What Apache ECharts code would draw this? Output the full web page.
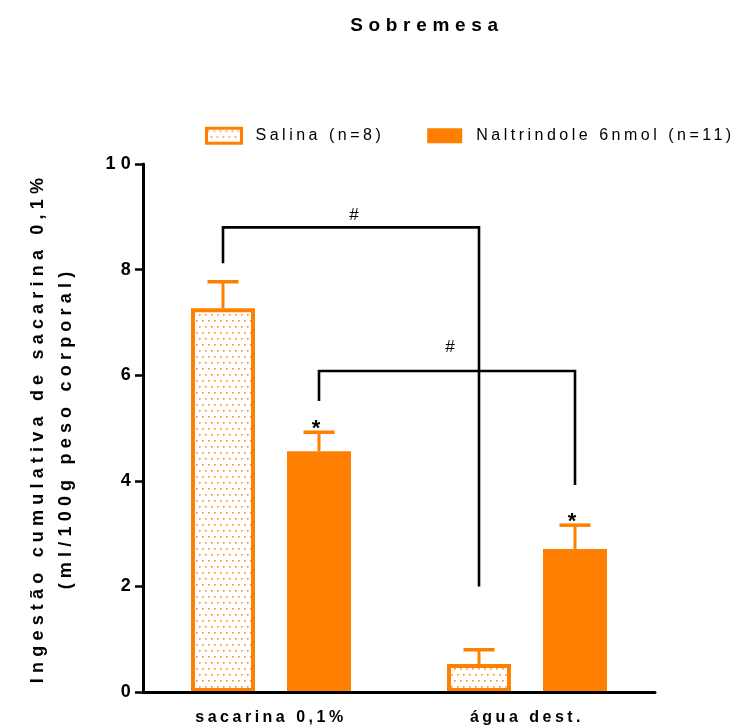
<!DOCTYPE html>
<html>
<head>
<meta charset="utf-8">
<script src="https://cdn.jsdelivr.net/npm/echarts@6/dist/echarts.min.js"></script>
<style>
  html, body { margin: 0; padding: 0; background: #ffffff; }
  #chart { width: 734px; height: 728px; }
</style>
</head>
<body>
<div id="chart"></div>
<script>
// ---- data ----
const categories = ['sacarina 0,1%', 'água dest.'];
const salinaMean = [7.27, 0.53];
const salinaSem  = [0.50, 0.27];
const naltMean   = [4.56, 2.71];
const naltSem    = [0.36, 0.45];
const naltMarks  = ['*', '*'];

// significance brackets: [category, series] at each end
const bracketFrom    = [[0, 0], [0, 1]];
const bracketTo      = [[1, 0], [1, 1]];
const bracketTop     = [8.8, 6.08];
const bracketFromEnd = [8.12, 5.51];
const bracketToEnd   = [2.0, 3.92];
const bracketMarks   = ['#', '#'];
const bracketMarkAt  = [9.03, 6.52];   // height of the "#" label

const yMin = 0, yMax = 10, yStep = 2;

// ---- style ----
const ORANGE = '#FF8000';
const FONT = "'Liberation Sans', Arial, sans-serif";
const BAR_W = 64;
const BAR_BORDER = 4;
const BAR_GAP = 0.5;                // fraction of bar width
const BAR_OFFSET = (BAR_W + BAR_W * BAR_GAP) / 2;
const seriesOffset = [-BAR_OFFSET, BAR_OFFSET];

// Tracked lettering: extra letter spacing (px) per font size
const TRACKING = { 16: 3.5, 18: 5.2, 19: 5.7 };
(function () {
  const proto = CanvasRenderingContext2D.prototype;
  const track = function (ctx) {
    const m = /(\d+(?:\.\d+)?)px/.exec(ctx.font);
    const sp = m ? TRACKING[Math.round(parseFloat(m[1]))] : 0;
    ctx.letterSpacing = (sp || 0) + 'px';
  };
  const fill = proto.fillText, measure = proto.measureText;
  proto.fillText = function (t, x, y, w) { track(this); return w === undefined ? fill.call(this, t, x, y) : fill.call(this, t, x, y, w); };
  proto.measureText = function (t) { track(this); return measure.call(this, t); };
})();

// dotted fill for the saline bars
function dotTile() {
  const c = document.createElement('canvas');
  c.width = 6; c.height = 12;
  const g = c.getContext('2d');
  g.fillStyle = '#ffffff';
  g.fillRect(0, 0, 6, 12);
  g.fillStyle = ORANGE;
  g.globalAlpha = 0.9;
  g.fillRect(1, 2, 1.6, 1.6);
  g.fillRect(4, 8, 1.6, 1.6);
  return c;
}
const dotPattern = { image: dotTile(), repeat: 'repeat' };

const chart = echarts.init(document.getElementById('chart'), null, { renderer: 'canvas' });

function errorBarItem(seriesIdx, marks) {
  return function (params, api) {
    const cat = api.value(0);
    const mean = api.value(1);
    const hi = api.value(2);
    const x = api.coord([cat, mean])[0] + seriesOffset[seriesIdx];
    const yMean = api.coord([cat, mean])[1];
    const yHi = api.coord([cat, hi])[1];
    const half = 15.5;
    const children = [
      { type: 'line', shape: { x1: x, y1: yMean, x2: x, y2: yHi }, style: { stroke: ORANGE, lineWidth: 3 } },
      { type: 'line', shape: { x1: x - half, y1: yHi, x2: x + half, y2: yHi }, style: { stroke: ORANGE, lineWidth: 3.5 } }
    ];
    if (marks && marks[params.dataIndex]) {
      children.push({
        type: 'text', x: x - 3, y: yHi - 3,
        style: { text: marks[params.dataIndex], fill: '#000', font: 'bold 22px ' + FONT, align: 'center', verticalAlign: 'middle' }
      });
    }
    return { type: 'group', children: children };
  };
}

function bracketItem(params, api) {
  const i = params.dataIndex;
  const f = bracketFrom[i], t = bracketTo[i];
  const x1 = api.coord([f[0], 0])[0] + seriesOffset[f[1]];
  const x2 = api.coord([t[0], 0])[0] + seriesOffset[t[1]];
  const yTop = api.coord([0, bracketTop[i]])[1];
  const y1 = api.coord([0, bracketFromEnd[i]])[1];
  const y2 = api.coord([0, bracketToEnd[i]])[1];
  const yMark = api.coord([0, bracketMarkAt[i]])[1];
  return {
    type: 'group',
    children: [
      { type: 'polyline', shape: { points: [[x1, y1], [x1, yTop], [x2, yTop], [x2, y2]] },
        style: { stroke: '#000', lineWidth: 2.6, fill: null } },
      { type: 'text', x: (x1 + x2) / 2 + 3, y: yMark,
        style: { text: bracketMarks[i], fill: '#000', font: '17px ' + FONT, align: 'center', verticalAlign: 'middle' } }
    ]
  };
}

const option = {
  animation: false,
  backgroundColor: '#ffffff',
  title: {
    text: 'Sobremesa',
    left: 422, top: 8,
    textAlign: 'center',
    textStyle: { fontFamily: FONT, fontSize: 19, fontWeight: 'bold', color: '#000' }
  },
  legend: {
    left: 205, top: 126,
    width: 600,
    padding: 0,
    itemWidth: 35, itemHeight: 15,
    itemGap: 43,
    textStyle: { fontFamily: FONT, fontSize: 16, color: '#000', padding: [0, 0, 0, 9] },
    data: [
      { name: 'Salina (n=8)', icon: 'rect', itemStyle: { color: dotPattern, borderColor: ORANGE, borderWidth: 3 } },
      { name: 'Naltrindole 6nmol (n=11)', icon: 'rect', itemStyle: { color: ORANGE, borderWidth: 0 } }
    ]
  },
  grid: { left: 143, right: 79, top: 164, bottom: 36 },
  xAxis: {
    type: 'category',
    data: categories,
    z: 5,
    axisLine: { lineStyle: { color: '#000', width: 3 } },
    axisTick: { alignWithLabel: true, length: 8, lineStyle: { color: '#000', width: 2.5 } },
    axisLabel: { fontFamily: FONT, fontSize: 16, fontWeight: 'bold', color: '#000', margin: 16 }
  },
  yAxis: {
    type: 'value',
    min: yMin, max: yMax, interval: yStep,
    z: 5,
    name: 'Ingestão cumulativa de sacarina 0,1%\n(ml/100g peso corporal)',
    nameLocation: 'middle',
    nameGap: 63,
    nameTextStyle: { fontFamily: FONT, fontSize: 18, fontWeight: 'bold', color: '#000', lineHeight: 28 },
    axisLine: { show: true, lineStyle: { color: '#000', width: 3 } },
    axisTick: { show: true, length: 8, lineStyle: { color: '#000', width: 2.5 } },
    axisLabel: { fontFamily: FONT, fontSize: 18, fontWeight: 'bold', color: '#000', margin: 7 },
    splitLine: { show: false }
  },
  series: [
    {
      name: 'Salina (n=8)', type: 'bar', data: salinaMean,
      barWidth: BAR_W, barGap: (BAR_GAP * 100) + '%', z: 2,
      itemStyle: { color: dotPattern, borderColor: ORANGE, borderWidth: BAR_BORDER }
    },
    {
      name: 'Naltrindole 6nmol (n=11)', type: 'bar', data: naltMean,
      barWidth: BAR_W, z: 2,
      itemStyle: { color: ORANGE, borderColor: ORANGE, borderWidth: BAR_BORDER }
    },
    {
      type: 'custom', renderItem: errorBarItem(0, null), z: 3,
      data: salinaMean.map(function (m, i) { return [i, m, m + salinaSem[i]]; })
    },
    {
      type: 'custom', renderItem: errorBarItem(1, naltMarks), z: 3,
      data: naltMean.map(function (m, i) { return [i, m, m + naltSem[i]]; })
    },
    {
      type: 'custom', renderItem: bracketItem, z: 4,
      data: bracketTop.map(function (v, i) { return [i, v]; })
    }
  ]
};
chart.setOption(option);
</script>
</body>
</html>
